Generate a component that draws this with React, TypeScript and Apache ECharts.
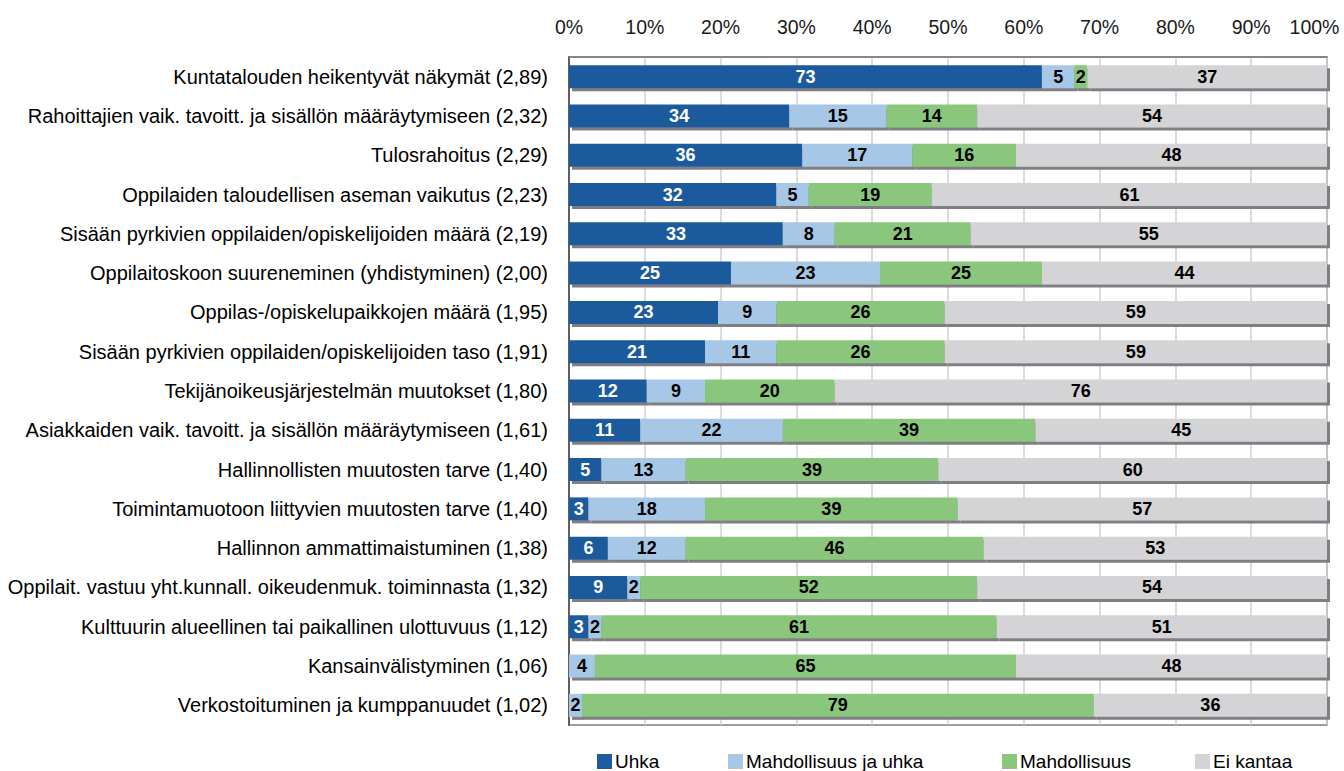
import React, { useEffect, useRef } from "react";
import * as echarts from "echarts";

const categories = [
  "Kuntatalouden heikentyvät näkymät (2,89)",
  "Rahoittajien vaik. tavoitt. ja sisällön määräytymiseen (2,32)",
  "Tulosrahoitus (2,29)",
  "Oppilaiden taloudellisen aseman vaikutus (2,23)",
  "Sisään pyrkivien oppilaiden/opiskelijoiden määrä (2,19)",
  "Oppilaitoskoon suureneminen (yhdistyminen) (2,00)",
  "Oppilas-/opiskelupaikkojen määrä (1,95)",
  "Sisään pyrkivien oppilaiden/opiskelijoiden taso (1,91)",
  "Tekijänoikeusjärjestelmän muutokset (1,80)",
  "Asiakkaiden vaik. tavoitt. ja sisällön määräytymiseen (1,61)",
  "Hallinnollisten muutosten tarve (1,40)",
  "Toimintamuotoon liittyvien muutosten tarve (1,40)",
  "Hallinnon ammattimaistuminen (1,38)",
  "Oppilait. vastuu yht.kunnall. oikeudenmuk. toiminnasta (1,32)",
  "Kulttuurin alueellinen tai paikallinen ulottuvuus (1,12)",
  "Kansainvälistyminen (1,06)",
  "Verkostoituminen ja kumppanuudet (1,02)",
];

const uhka = [73, 34, 36, 32, 33, 25, 23, 21, 12, 11, 5, 3, 6, 9, 3, 0, 0];
const mahdJaUhka = [5, 15, 17, 5, 8, 23, 9, 11, 9, 22, 13, 18, 12, 2, 2, 4, 2];
const mahdollisuus = [2, 14, 16, 19, 21, 25, 26, 26, 20, 39, 39, 39, 46, 52, 61, 65, 79];
const eiKantaa = [37, 54, 48, 61, 55, 44, 59, 59, 76, 45, 60, 57, 53, 54, 51, 48, 36];

const seriesNames = ["Uhka", "Mahdollisuus ja uhka", "Mahdollisuus", "Ei kantaa"];
const seriesColors = ["#1D5A9E", "#A7C7E6", "#8AC77B", "#D4D4D6"];
const labelColors = ["#ffffff", "#000000", "#000000", "#000000"];
const tickLabels = ["0%", "10%", "20%", "30%", "40%", "50%", "60%", "70%", "80%", "90%", "100%"];

const FONT = "'Liberation Sans', Arial, sans-serif";

export default function App() {
  const ref = useRef<HTMLDivElement>(null);
  useEffect(() => {
    if (!ref.current) return;
    const chart = echarts.init(ref.current, undefined, { renderer: "svg" });
    const all = [uhka, mahdJaUhka, mahdollisuus, eiKantaa];
    const totals = categories.map((_, i) => all.reduce((s, arr) => s + arr[i], 0));
    const legendLefts = [597, 728, 1002, 1195];

    chart.setOption({
      animation: false,
      textStyle: { fontFamily: FONT },
      grid: {
        left: 569,
        right: 17,
        top: 57,
        bottom: 46,
        show: true,
        borderColor: "#7f7f7f",
        borderWidth: 1.5,
      },
      xAxis: {
        type: "value",
        position: "top",
        min: 0,
        max: 100,
        interval: 10,
        axisLine: { show: true, lineStyle: { color: "#7f7f7f", width: 1.5 } },
        axisTick: { show: false },
        axisLabel: {
          fontSize: 19.5,
          color: "#1a1a1a",
          fontFamily: FONT,
          margin: 20,
          formatter: (v: number) => {
            const i = Math.round(v / 10);
            return i === 10 ? "{last|" + tickLabels[i] + "}" : tickLabels[i];
          },
          rich: {
            last: {
              fontSize: 19.5,
              color: "#1a1a1a",
              fontFamily: FONT,
              padding: [0, 25, 0, 0],
            },
          },
        },
        splitLine: { show: true, lineStyle: { color: "#d0d0d0", width: 1.5 } },
      },
      yAxis: {
        type: "category",
        inverse: true,
        data: categories,
        axisLine: { show: true, lineStyle: { color: "#5f5f5f", width: 2 } },
        axisTick: { show: false },
        axisLabel: { fontSize: 20, color: "#000", fontFamily: FONT, margin: 21 },
        splitLine: { show: false },
      },
      legend: seriesNames.map((n, i) => ({
        data: [n],
        left: legendLefts[i],
        top: 752,
        itemWidth: 15,
        itemHeight: 15,
        icon: "rect",
        padding: 0,
        textStyle: { fontSize: 19, color: "#000", fontFamily: FONT, padding: [0, 0, 0, -2] },
      })),
      series: all.map((arr, si) => ({
        name: seriesNames[si],
        type: "bar",
        stack: "total",
        barWidth: 23,
        data: arr.map((v, i) => ({ value: (v / totals[i]) * 100 })),
        itemStyle: {
          color: seriesColors[si],
          shadowColor: "#7e7e83",
          shadowBlur: 0,
          shadowOffsetX: 3,
          shadowOffsetY: 3,
        },
        label: {
          show: true,
          position: "inside",
          color: labelColors[si],
          fontWeight: "bold",
          fontSize: 18,
          fontFamily: FONT,
          formatter: (p: any) => (arr[p.dataIndex] === 0 ? "" : String(arr[p.dataIndex])),
        },
      })),
    });
    return () => chart.dispose();
  }, []);
  return <div ref={ref} style={{ width: 1344, height: 771, position: "absolute", left: 0, top: 0 }} />;
}
